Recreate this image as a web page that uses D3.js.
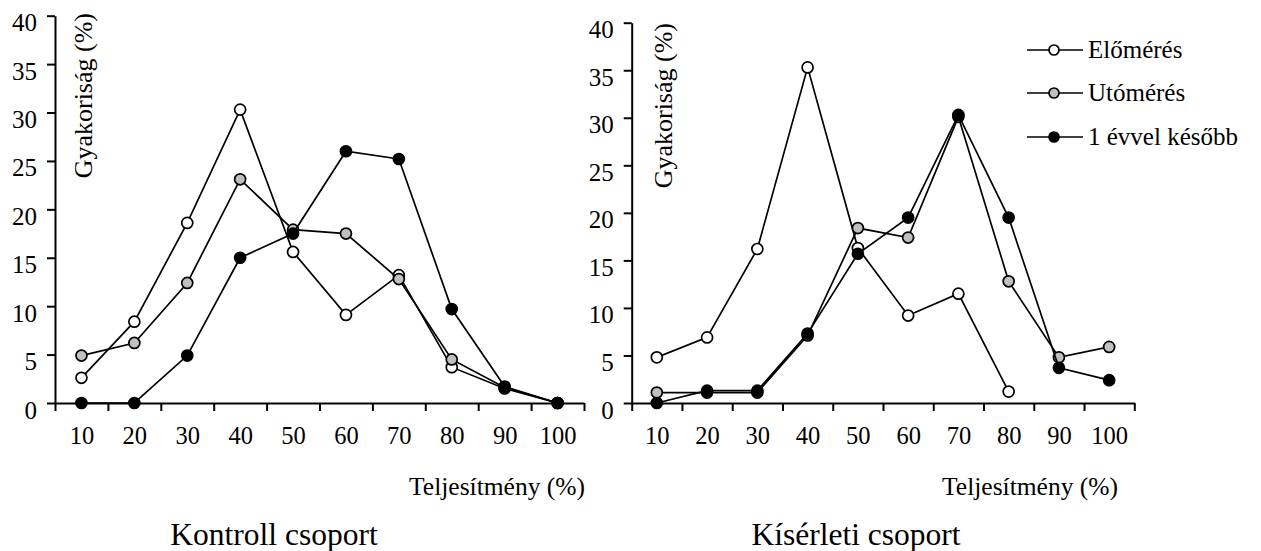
<!DOCTYPE html>
<html>
<head>
<meta charset="utf-8">
<script src="https://cdn.jsdelivr.net/npm/d3@7"></script>
<style>
  html, body { margin: 0; padding: 0; background: #fff; }
  svg { display: block; }
</style>
</head>
<body>
<svg id="chart" width="1261" height="551"></svg>
<script>
// Performance bins (%)
const categories = [10, 20, 30, 40, 50, 60, 70, 80, 90, 100];
const yTicks = [0, 5, 10, 15, 20, 25, 30, 35, 40];

const seriesNames = ["Előmérés", "Utómérés", "1 évvel később"];

// Control group frequencies (%)
const kontrollElo   = [2.6, 8.4, 18.6, 30.3, 15.6, 9.1, 13.2, 3.7, 1.5, 0];
const kontrollUto   = [4.9, 6.2, 12.4, 23.1, 17.9, 17.5, 12.8, 4.5, 1.6, 0];
const kontrollKesob = [0, 0, 4.9, 15.0, 17.5, 26.0, 25.2, 9.7, 1.7, 0];

// Experimental group frequencies (%); the pre-test has no 90/100 values
const kiserletiElo   = [4.8, 6.9, 16.2, 35.3, 16.3, 9.2, 11.5, 1.2, null, null];
const kiserletiUto   = [1.1, 1.1, 1.1, 7.1, 18.4, 17.4, 30.1, 12.8, 4.8, 5.9];
const kiserletiKesob = [0, 1.3, 1.3, 7.3, 15.7, 19.5, 30.3, 19.5, 3.7, 2.4];

const markerFill = ["#ffffff", "#c0c0c0", "#000000"];
const SERIF = '"Times New Roman", "Liberation Serif", Times, serif';

const panels = [
  { title: "Kontroll csoport", series: [kontrollElo, kontrollUto, kontrollKesob],
    x0: 55, x1: 584, yTop: 15.7, yBottom: 403, xTitleEnd: 585, titleX: 274,
    yTitleX: 92, yTitleTop: 13 },
  { title: "Kísérleti csoport", series: [kiserletiElo, kiserletiUto, kiserletiKesob],
    x0: 631.7, x1: 1134.3, yTop: 22.7, yBottom: 403, xTitleEnd: 1118, titleX: 856,
    yTitleX: 672, yTitleTop: 23 }
];

const svg = d3.select("#chart");

function serif(sel, size) {
  return sel.style("font-family", SERIF).style("font-size", size + "px").style("fill", "#000");
}

panels.forEach(p => {
  const g = svg.append("g");

  // Category bins are bands; ticks sit on the bin boundaries
  const xEdge = d3.scaleLinear().domain([5, 105]).range([p.x0, p.x1]);
  const y = d3.scaleLinear().domain([0, 40]).range([p.yBottom, p.yTop]);

  // Y axis
  const yAxis = g.append("g")
    .attr("transform", `translate(${p.x0},0)`)
    .call(d3.axisLeft(y).tickValues(yTicks).tickSize(8).tickSizeOuter(0).tickPadding(10));
  yAxis.attr("font-family", null).attr("font-size", null);
  yAxis.selectAll("path, line").attr("stroke", "#000").attr("stroke-width", 2);
  serif(yAxis.selectAll("text"), 25)
    .attr("dy", "0.6em")
    .attr("x", -18);

  // X axis: tick marks on boundaries
  const xAxis = g.append("g")
    .attr("transform", `translate(0,${p.yBottom})`)
    .call(d3.axisBottom(xEdge).tickValues(d3.range(5, 106, 10)).tickSize(8).tickSizeOuter(0).tickFormat(""));
  xAxis.selectAll("path, line").attr("stroke", "#000").attr("stroke-width", 2);

  // X labels at bin centres
  const xLab = g.append("g")
    .attr("transform", `translate(0,${p.yBottom})`)
    .call(d3.axisBottom(xEdge).tickValues(categories).tickSize(0).tickPadding(34));
  xLab.attr("font-family", null).attr("font-size", null);
  xLab.select(".domain").remove();
  serif(xLab.selectAll("text"), 24.5).attr("dy", "0.3em");

  // Axis titles
  serif(g.append("text"), 25.5)
    .attr("x", p.xTitleEnd).attr("y", 495)
    .attr("text-anchor", "end")
    .text("Teljesítmény (%)");

  serif(g.append("text"), 26)
    .attr("transform", `translate(${p.yTitleX},${p.yTitleTop}) rotate(-90)`)
    .attr("text-anchor", "end")
    .text("Gyakoriság (%)");

  // Panel caption
  serif(g.append("text"), 31.5)
    .attr("x", p.titleX).attr("y", 545)
    .attr("text-anchor", "middle")
    .text(p.title);

  // Lines then markers, drawn series by series
  const line = d3.line()
    .defined(d => d.v !== null)
    .x(d => xEdge(d.c)).y(d => y(d.v));

  p.series.forEach((vals, si) => {
    const pts = categories.map((c, i) => ({ c, v: vals[i] }));
    g.append("path")
      .datum(pts)
      .attr("d", line)
      .attr("fill", "none").attr("stroke", "#000").attr("stroke-width", 1.7);
    g.selectAll(null)
      .data(pts.filter(d => d.v !== null))
      .join("circle")
      .attr("cx", d => xEdge(d.c)).attr("cy", d => y(d.v))
      .attr("r", 5.5)
      .attr("fill", markerFill[si]).attr("stroke", "#000").attr("stroke-width", 1.7);
  });
});

// Legend
const legend = svg.append("g");
const legendRows = [50, 93, 137];
seriesNames.forEach((name, i) => {
  const ly = legendRows[i];
  legend.append("line")
    .attr("x1", 1027).attr("x2", 1083).attr("y1", ly).attr("y2", ly)
    .attr("stroke", "#000").attr("stroke-width", 1.7);
  legend.append("circle")
    .attr("cx", 1054).attr("cy", ly).attr("r", 5)
    .attr("fill", markerFill[i]).attr("stroke", "#000").attr("stroke-width", 1.7);
  serif(legend.append("text"), 25)
    .attr("x", 1088).attr("y", ly + 8)
    .text(name);
});
</script>
</body>
</html>
